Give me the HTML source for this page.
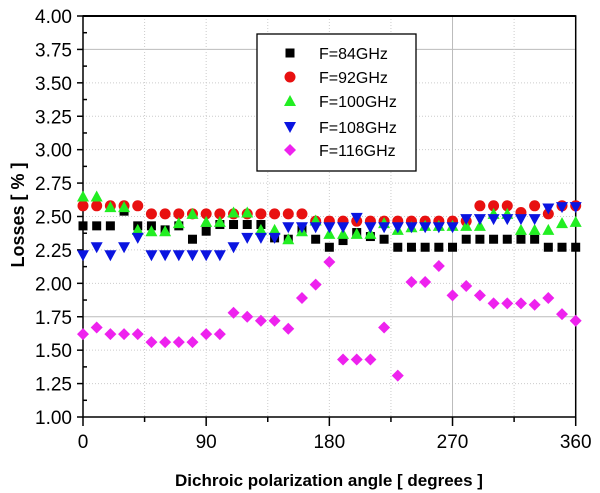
<!DOCTYPE html>
<html><head><meta charset="utf-8"><style>
html,body{margin:0;padding:0;background:#fff;}
svg{display:block;font-family:"Liberation Sans",Arial,sans-serif;}
</style></head><body>
<svg id="chart" width="600" height="493" viewBox="0 0 600 493">
<g id="grid"></g><g id="axes"></g><g id="marks"></g><g id="legend"></g>
<text x="329" y="486" font-size="17" font-weight="bold" text-anchor="middle">Dichroic polarization angle [ degrees ]</text>
<text transform="translate(24,215) rotate(-90)" font-size="18" font-weight="bold" text-anchor="middle">Losses [ % ]</text>
</svg>
<script>
const angles=[0,10,20,30,40,50,60,70,80,90,100,110,120,130,140,150,160,170,180,190,200,210,220,230,240,250,260,270,280,290,300,310,320,330,340,350,360];
const f84=[2.43,2.43,2.43,2.54,2.43,2.43,2.40,2.43,2.33,2.39,2.44,2.44,2.44,2.44,2.34,2.33,2.40,2.33,2.27,2.32,2.38,2.35,2.33,2.27,2.27,2.27,2.27,2.27,2.33,2.33,2.33,2.33,2.33,2.33,2.27,2.27,2.27];
const f92=[2.58,2.58,2.58,2.58,2.58,2.52,2.52,2.52,2.52,2.52,2.52,2.52,2.52,2.52,2.52,2.52,2.52,2.465,2.465,2.465,2.465,2.465,2.465,2.465,2.465,2.465,2.465,2.465,2.465,2.58,2.58,2.58,2.53,2.58,2.52,2.58,2.58];
const f100=[2.65,2.65,2.57,2.57,2.40,2.39,2.39,2.45,2.52,2.46,2.46,2.53,2.53,2.40,2.40,2.33,2.39,2.47,2.37,2.37,2.37,2.37,2.45,2.40,2.42,2.43,2.43,2.43,2.43,2.43,2.52,2.52,2.40,2.40,2.40,2.45,2.46];
const f108=[2.21,2.27,2.21,2.27,2.34,2.21,2.21,2.21,2.21,2.21,2.21,2.27,2.34,2.34,2.34,2.42,2.42,2.42,2.42,2.42,2.49,2.42,2.42,2.42,2.42,2.42,2.42,2.42,2.48,2.48,2.48,2.48,2.48,2.48,2.56,2.57,2.57];
const f116=[1.62,1.67,1.62,1.62,1.62,1.56,1.56,1.56,1.56,1.62,1.62,1.78,1.75,1.72,1.72,1.66,1.89,1.99,2.16,1.43,1.43,1.43,1.67,1.31,2.01,2.01,2.13,1.91,1.98,1.91,1.85,1.85,1.85,1.84,1.89,1.77,1.72];
const yTicks=["1.00","1.25","1.50","1.75","2.00","2.25","2.50","2.75","3.00","3.25","3.50","3.75","4.00"];
const xTicks=[0,90,180,270,360];
const seriesNames=["F=84GHz","F=92GHz","F=100GHz","F=108GHz","F=116GHz"];

const NS="http://www.w3.org/2000/svg";
const L=83,R=575.7,T=16,B=417;
const xs=v=>L+(v/360)*(R-L);
const ys=v=>B-(v-1)/3*(B-T);
function mk(tag,attrs,parent){const e=document.createElementNS(NS,tag);for(const k in attrs)e.setAttribute(k,attrs[k]);parent.appendChild(e);return e;}
const grid=document.getElementById('grid'),axes=document.getElementById('axes'),marks=document.getElementById('marks'),legend=document.getElementById('legend');
// grid
for(let v=1.25;v<4;v+=0.25){const solid=Math.abs(v-3.75)<1e-6||Math.abs(v-1.75)<1e-6;
 const g=mk('line',{x1:L,x2:R,y1:ys(v),y2:ys(v),stroke:solid?'#bbb':'#ccc','stroke-width':1,'stroke-dasharray':solid?'':'1,2'},grid);
 
 }
for(let d=45;d<360;d+=45){const solid=d===270;
 const g=mk('line',{x1:xs(d),x2:xs(d),y1:T,y2:B,stroke:solid?'#bbb':'#ccc','stroke-width':1,'stroke-dasharray':solid?'':'1,2'},grid);
 
 }
// frame
const fr=mk('rect',{x:L,y:T,width:R-L,height:B-T,fill:'none',stroke:'#000','stroke-width':1.5},axes);


mk('line',{x1:L,x2:R,y1:T,y2:T,stroke:'#000','stroke-width':2},axes);
// y ticks
yTicks.forEach(t=>{const v=parseFloat(t),y=ys(v);
 mk('line',{x1:L-6,x2:L,y1:y,y2:y,stroke:'#000','stroke-width':1.5},axes);
 const tx=mk('text',{x:72,y:y+7,'font-size':19,'text-anchor':'end'},axes);tx.textContent=t;
 
 });
for(let v=1.125;v<4;v+=0.25){mk('line',{x1:L,x2:L+4,y1:ys(v),y2:ys(v),stroke:'#000','stroke-width':1.5},axes);}
// x ticks
xTicks.forEach(d=>{const x=xs(d);
 mk('line',{x1:x,x2:x,y1:B,y2:B+9,stroke:'#000','stroke-width':1.5},axes);
 const tx=mk('text',{x:x,y:448,'font-size':19,'text-anchor':'middle'},axes);tx.textContent=d;
 
 });
for(let d=45;d<360;d+=90){mk('line',{x1:xs(d),x2:xs(d),y1:B,y2:B+5,stroke:'#000','stroke-width':1.5},axes);}
// markers
function marker(type,x,y,parent){
 if(type===0)return mk('rect',{x:x-4.5,y:y-4.5,width:9,height:9,fill:'#000'},parent);
 if(type===1)return mk('circle',{cx:x,cy:y,r:5.5,fill:'#e81010'},parent);
 if(type===2)return mk('path',{d:`M${x} ${y-6}L${x+6} ${y+5}L${x-6} ${y+5}Z`,fill:'#22ee22'},parent);
 if(type===3)return mk('path',{d:`M${x-6} ${y-5}L${x+6} ${y-5}L${x} ${y+6}Z`,fill:'#0a14e0'},parent);
 return mk('path',{d:`M${x} ${y-6}L${x+6} ${y}L${x} ${y+6}L${x-6} ${y}Z`,fill:'#ee22ee'},parent);
}
const all=[f84,f92,f100,f108,f116];
all.forEach((s,i)=>{const g=mk('g',{},marks);
 
 
 s.forEach((v,j)=>{const m=marker(i,xs(angles[j]),ys(v),g);
  
  });});
// legend
const lb=mk('rect',{x:257,y:34,width:159,height:137,fill:'#fff',stroke:'#000','stroke-width':1.3},legend);


const ly=[53,77,101,127,150];
seriesNames.forEach((n,i)=>{const g=mk('g',{},legend);
 
 
 marker(i,290,ly[i],g);
 const t=mk('text',{x:319,y:ly[i]+6,'font-size':16},g);t.textContent=n;});
</script>
</body></html>
